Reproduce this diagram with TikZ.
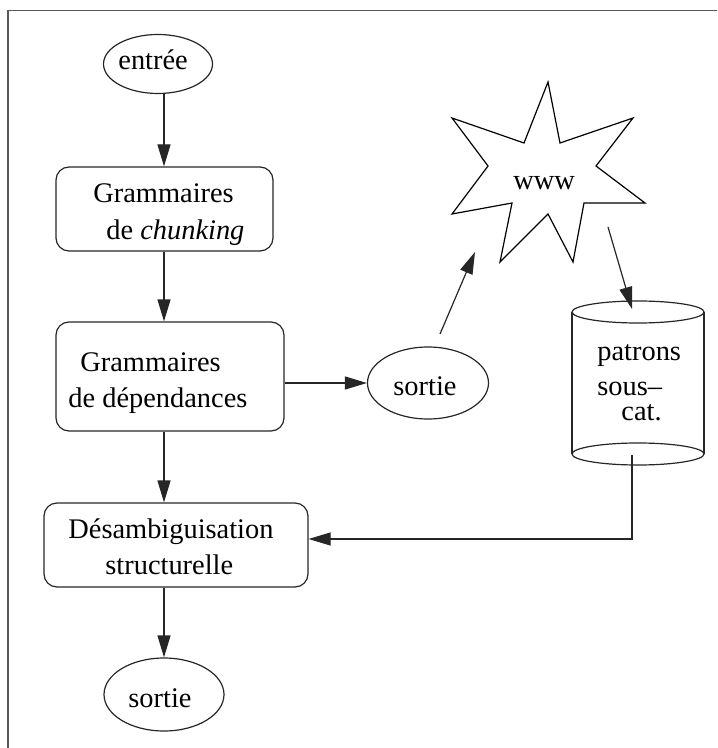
\documentclass[tikz,border=0pt]{standalone}
\usepackage{fontspec}
\setmainfont{Liberation Serif}
\usetikzlibrary{arrows.meta,shapes.geometric}
\tikzset{
  base/.style={line width=0.6pt, draw=black!85},
  conn/.style={base, -{Triangle[length=11pt,width=6.5pt]}},
  plain/.style={base},
  oval/.style={base, ellipse, inner sep=0pt},
  rbox/.style={base, rectangle, rounded corners=6.5pt, inner sep=0pt},
  txt/.style={anchor=base west, inner sep=0pt, font=\fontsize{14.2}{17}\selectfont},
  frame/.style={line width=0.8pt, draw=black!65}
}
\begin{document}
\begin{tikzpicture}[x=0.5pt,y=-0.5pt]
\useasboundingbox (0,0) rectangle (717,748);
% frame (only top and left edges visible)
\coordinate (f1) at (717,10.5);
\coordinate (f2) at (8,10.5);
\coordinate (f3) at (8,748);
\draw[frame] (f1) -- (f2) -- (f3);

% shapes
\node[oval, minimum width=54.5pt, minimum height=29.5pt] (entree) at (158,64) {};
\node[rbox, minimum width=108.5pt, minimum height=42pt] (box1) at (164.5,209) {};
\node[rbox, minimum width=114pt, minimum height=54.5pt] (box2) at (170,376.5) {};
\node[rbox, minimum width=132pt, minimum height=42pt] (box3) at (176,545) {};
\node[oval, minimum width=60.5pt, minimum height=36pt] (mid) at (428,383) {};
\node[oval, minimum width=60pt, minimum height=36.5pt] (out) at (164,694.5) {};

% star
\draw[plain, draw=black] (548,82) -- (560,143) -- (633,118) -- (596,166) -- (645,203)
  -- (584,203) -- (573,262) -- (548,214) -- (500,262) -- (512,203) -- (452,214)
  -- (488,166) -- (452,118) -- (524,143) -- cycle;
\coordinate (star) at (548,180);

% cylinder
\coordinate (cyltop) at (638,312);
\coordinate (cylbot) at (638,454);
\draw[plain] (572,312) -- (572,454);
\draw[plain] (704,312) -- (704,454);
\draw[plain] (cyltop) ellipse [x radius=33pt, y radius=5.5pt];
\draw[plain] (cylbot) ellipse [x radius=33pt, y radius=5.5pt];

% texts
\node[txt] (t0) at (118,70) {entrée};
\node[txt] (t1a) at (93,203) {Grammaires};
\node[txt] (t1b) at (106,240) {de \textit{chunking}};
\node[txt] (t2a) at (80,371) {Grammaires};
\node[txt] (t2b) at (68,407) {de dépendances};
\node[txt] (t3a) at (68,538) {Désambiguisation};
\node[txt] (t3b) at (105,574) {structurelle};
\node[txt] (t4) at (393,395) {sortie};
\node[txt] (t5) at (128,707) {sortie};
\node[txt] (t6) at (513,190) {www};
\node[txt, align=left, font=\fontsize{14.2}{12.5}\selectfont] (t7) at (597,420) {patrons\\[5pt]sous\textendash\\\hspace*{12pt}cat.};

% connectors
\coordinate (col) at (164,0);
\draw[conn] (col |- entree.south) -- (col |- box1.north);
\draw[conn] (col |- box1.south) -- (col |- box2.north);
\draw[conn] (col |- box2.south) -- (col |- box3.north);
\draw[conn] (col |- box3.south) -- (out.north);
\draw[conn] (box2.east |- mid.west) -- (mid.west);
\coordinate (ms) at (440,334);
\coordinate (sw) at (475,252);
\draw[conn] (ms) -- (sw);
\coordinate (ss) at (608,227);
\coordinate (ct) at (632,309);
\draw[conn] (ss) -- (ct);
\coordinate (cb) at (632,455);
\coordinate (cb2) at (632,539);
\draw[conn] (cb) -- (cb2) -- (box3.east |- cb2);
\end{tikzpicture}
\end{document}
